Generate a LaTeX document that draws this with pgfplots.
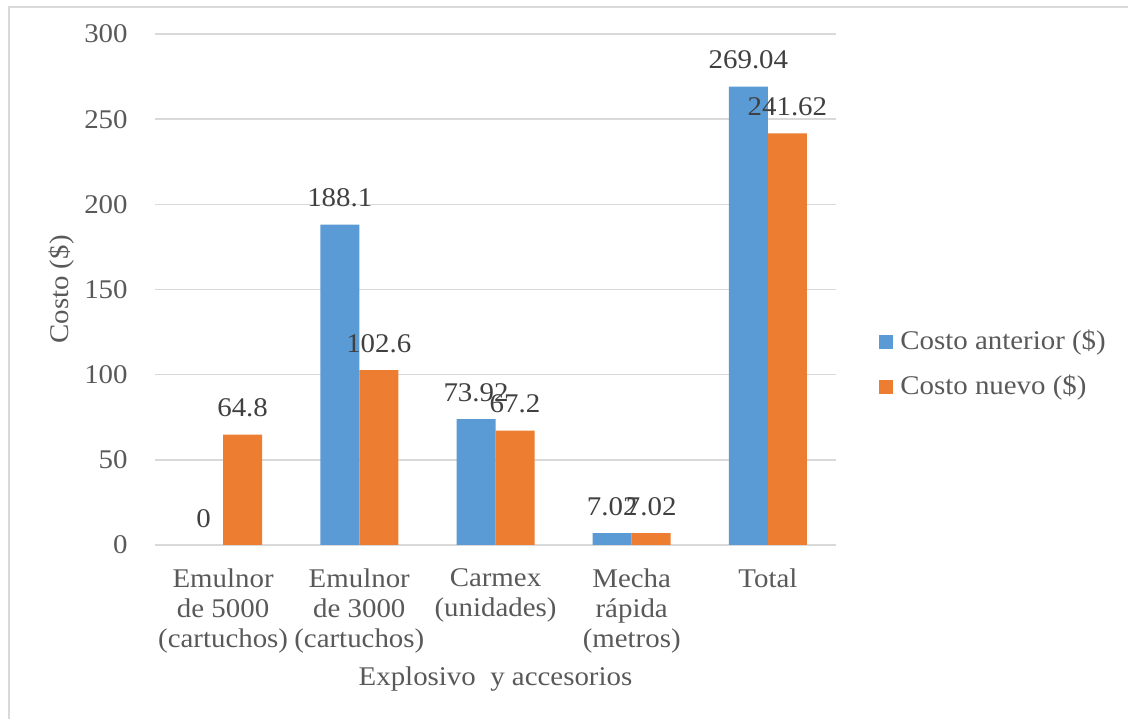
\documentclass[border=0pt]{standalone}
\usepackage{pgfplots}
\pgfplotsset{compat=1.18}
\usepackage{fontspec}
\setmainfont{Liberation Serif}[FakeStretch=1.07]
\definecolor{cblue}{HTML}{5B9BD5}
\definecolor{corange}{HTML}{ED7D31}
\definecolor{cgrid}{HTML}{D9D9D9}
\definecolor{ctext}{HTML}{595959}
\definecolor{clabel}{HTML}{404040}
\begin{document}
\fontsize{13.5bp}{15bp}\selectfont
\begin{tikzpicture}
\path[use as bounding box] (0,0) rectangle (564bp,359.5bp);
\draw[cgrid, line width=1bp] (4.5bp,0) -- (4.5bp,356bp) -- (564bp,356bp);
\begin{axis}[
  at={(77.5bp,87bp)}, anchor=south west,
  scale only axis, width=340.5bp, height=255.5bp,
  ybar=0pt, bar width=19.5bp,
  xmin=-0.5, xmax=4.5, ymin=0, ymax=300,
  xtick={0,1,2,3,4},
  xticklabels={{Emulnor\\de 5000\\(cartuchos)},{Emulnor\\de 3000\\(cartuchos)},{Carmex\\(unidades)},{Mecha\\rápida\\(metros)},{Total}},
  ytick={0,50,100,150,200,250,300},
  ymajorgrids, grid style={cgrid, line width=0.75bp},
  axis line style={draw=none},
  major tick length=0pt,
  /pgf/number format/assume math mode=true,
  tick label style={color=ctext},
  yticklabel style={anchor=east, inner sep=0pt, xshift=-13.5bp},
  xticklabel style={anchor=north, inner sep=0pt, align=center, yshift=-11.5bp},
  xlabel={Explosivo\ \ y accesorios},
  ylabel={Costo (\$)},
  label style={color=ctext},
  xlabel style={at={(axis description cs:0.5,0)}, anchor=center, yshift=-67bp},
  ylabel style={at={(axis description cs:0,0.5)}, anchor=center, yshift=46.5bp},
  point meta=explicit symbolic,
  nodes near coords,
  nodes near coords style={anchor=south, inner sep=0pt, yshift=8.5bp, color=clabel},
  legend image code/.code={\fill[#1] (0bp,-3bp) rectangle (7bp,4bp);},
  legend cell align=left,
  legend style={draw=none, fill=none, inner sep=0pt, at={(axis description cs:1,0.351)}, anchor=west, xshift=21.5bp,
    nodes={inner sep=0pt, text height=9bp, text depth=3bp, text=ctext}, column sep=3.5bp, row sep=10.5bp},
]
\addplot[fill=cblue, draw=none] coordinates {(0,0) [0] (1,188.1) [188.1] (2,73.92) [73.92] (3,7.02) [7.02] (4,269.04) [269.04]};
\addplot[fill=corange, draw=none] coordinates {(0,64.8) [64.8] (1,102.6) [102.6] (2,67.2) [67.2] (3,7.02) [7.02] (4,241.62) [241.62]};
\legend{Costo anterior (\$), Costo nuevo (\$)}
\end{axis}
\end{tikzpicture}
\end{document}
